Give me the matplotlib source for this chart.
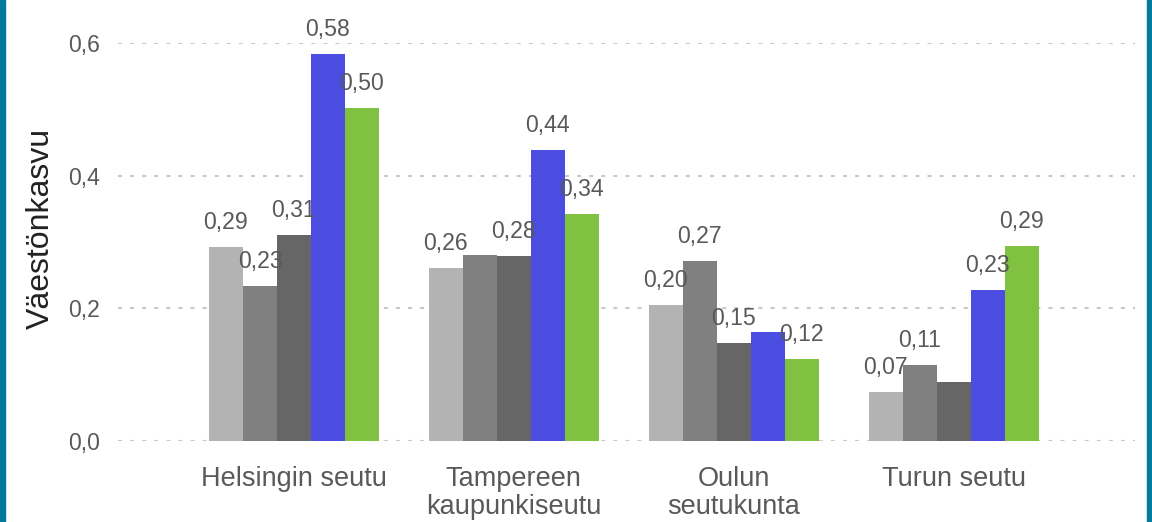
import numpy as np
import matplotlib.pyplot as plt
from matplotlib.patches import Rectangle

plt.rcParams['font.family'] = ['Liberation Sans', 'DejaVu Sans']

# Data
categories = ['Helsingin seutu', 'Tampereen\nkaupunkiseutu', 'Oulun\nseutukunta', 'Turun seutu']
series_1 = [0.292, 0.261, 0.205, 0.074]
series_2 = [0.234, 0.280, 0.271, 0.114]
series_3 = [0.311, 0.279, 0.148, 0.089]
series_4 = [0.584, 0.439, 0.164, 0.228]
series_5 = [0.502, 0.342, 0.124, 0.294]
# labels the original chart left out (series index, category index)
hidden_labels = [(1, 1), (3, 2), (2, 3)]
yticks = [0.0, 0.2, 0.4, 0.6]
ytick_labels = ['0,0', '0,2', '0,4', '0,6']

colors = ['#b3b3b3', '#808080', '#666666', '#4a4ddf', '#80c141']
text_color = '#595959'

fig = plt.figure(figsize=(11.52, 5.22), dpi=100)
ax = fig.add_axes([118 / 1152, 81 / 522, (1135 - 118) / 1152, (441 - 43) / 522])
ax.set_ylim(0, 0.6)

series = [series_1, series_2, series_3, series_4, series_5]
x = np.arange(len(categories))
width = 0.1545

for i, vals in enumerate(series):
    pos = x + (i - 2) * width
    ax.bar(pos, vals, width=width, color=colors[i], zorder=3)
    for j, v in enumerate(vals):
        if (i, j) in hidden_labels:
            continue
        ax.annotate(f'{v:.2f}'.replace('.', ','), (pos[j], v), xytext=(0, 13),
                    textcoords='offset points', ha='center', va='baseline',
                    fontsize=16.6, color=text_color, zorder=4)

ax.set_xlim(-0.8, 3.825)
ax.set_yticks(yticks)
ax.set_yticklabels(ytick_labels)
ax.set_xticks(x)
ax.set_xticklabels(categories, linespacing=1.1)
ax.tick_params(axis='y', length=0, pad=13, labelsize=16.6, labelcolor=text_color)
ax.tick_params(axis='x', length=0, pad=18, labelsize=19.5, labelcolor=text_color)
ax.grid(axis='y', color='#c8c8c8', linestyle=(0, (1.9, 3.9)), linewidth=1.5, zorder=0)
for s in ax.spines.values():
    s.set_visible(False)

ax.set_ylabel('Väestönkasvu', fontsize=23, color='#222222')
ax.yaxis.set_label_coords(-0.061, 0.535)

# teal side borders
fig.patches.append(Rectangle((0, 0), 5 / 1152, 1, transform=fig.transFigure, color='#007a9e'))
fig.patches.append(Rectangle((1 - 5 / 1152, 0), 5 / 1152, 1, transform=fig.transFigure, color='#007a9e'))

fig.savefig('out.png', dpi=100)
